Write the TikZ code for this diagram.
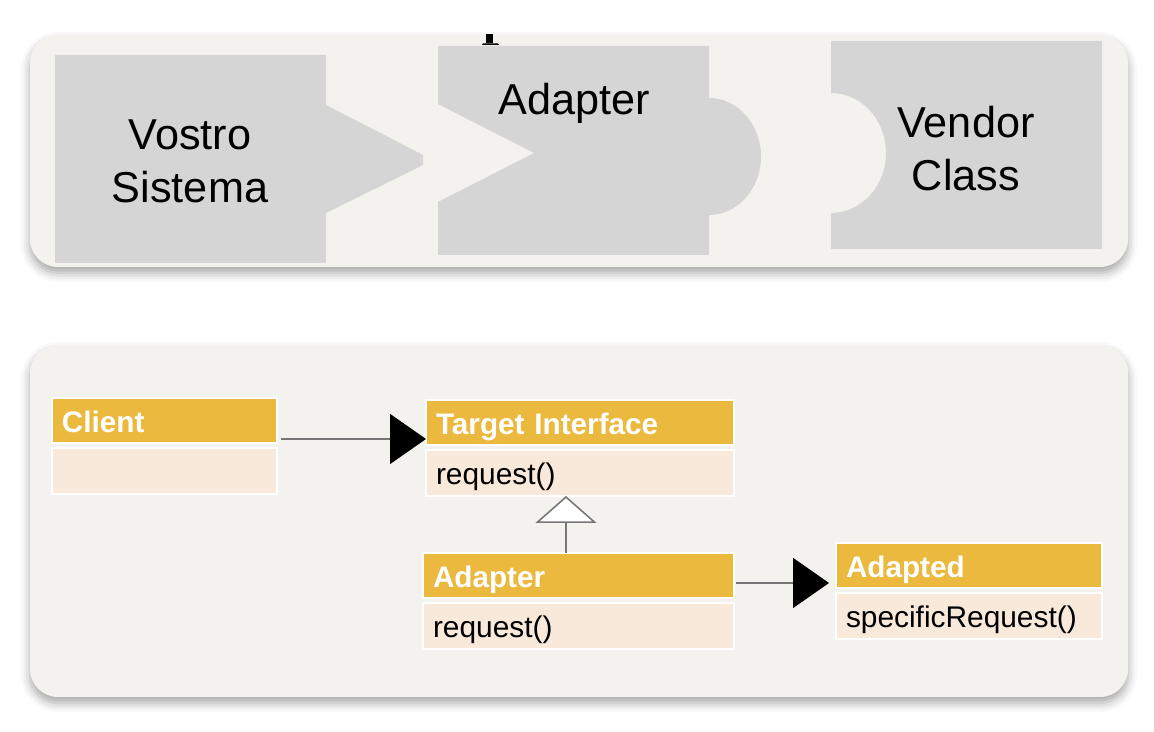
\documentclass[tikz,border=0pt]{standalone}
\usepackage{fontspec}
\setmainfont{Liberation Sans}
\usetikzlibrary{positioning,arrows.meta,shadows.blur}
\definecolor{panelbg}{HTML}{F4F2EE}
\definecolor{piecegray}{HTML}{D5D5D5}
\definecolor{umlgold}{HTML}{EBB93E}
\definecolor{umlpeach}{HTML}{F9E9DB}
\definecolor{linegray}{HTML}{777777}
\begin{document}
\begin{tikzpicture}[x=0.02cm,y=-0.02cm,
    panel/.style={fill=panelbg,rounded corners=0.56cm,
      blur shadow={shadow xshift=0cm,shadow yshift=-0.12cm,shadow blur radius=0.18cm,shadow opacity=35}},
    piece/.style={fill=piecegray},
    bigtxt/.style={font=\fontsize{24.6}{30}\selectfont,align=center,inner sep=0},
    hdr/.style={anchor=north west,fill=umlgold,draw=white,line width=1.1pt,text=white,
      font=\bfseries\fontsize{16.9}{20}\selectfont,inner xsep=0.2cm,inner ysep=0,
      text height=0.7cm,text depth=0.2cm,align=left,outer sep=0},
    bdy/.style={fill=umlpeach,draw=white,line width=1.1pt,text=black,
      font=\fontsize{17}{20}\selectfont,inner xsep=0.2cm,inner ysep=0,
      text height=0.7cm,text depth=0.22cm,align=left,outer sep=0},
    assoc/.style={draw=linegray,line width=0.9pt,-{Triangle[length=0.72cm,width=1cm,color=black]}},
    inherit/.style={draw=linegray,line width=0.9pt,-{Triangle[open,length=0.54cm,width=1.22cm,fill=white]}}]
  \useasboundingbox (0,0) rectangle (1154,732);
  % panels
  \path[panel] (30,35) rectangle (1128,267);
  \path[panel] (30,345) rectangle (1128,697);
  % foot of a cut off title letter
  \fill (486,34) rectangle (493,43.5);
  \fill (483,43.5) -- (498,43.5) -- (499,45) -- (482,45) -- cycle;
  % puzzle pieces
  \fill[piece] (55,55) -- (326,55) -- (326,105) -- (423,155) -- (423,165)
    -- (326,213) -- (326,263) -- (55,263) -- cycle;
  \fill[piece] (438,46) -- (709,46) -- (709,98)
    .. controls (737.7,98) and (761,124.2) .. (761,156.5)
    .. controls (761,188.8) and (737.7,215) .. (709,215)
    -- (709,255) -- (438,255) -- (438,202) -- (534,153) -- (438,104) -- cycle;
  \fill[piece] (831,41) -- (1102,41) -- (1102,249) -- (831,249) -- (831,213)
    .. controls (861.4,213) and (886,186.1) .. (886,153)
    .. controls (886,119.9) and (861.4,93) .. (831,93) -- cycle;
  \node[bigtxt] (vostro) at (190,161) {Vostro\\Sistema};
  \node[bigtxt,anchor=base] (adapt) at (574,115) {Adapter};
  \node[bigtxt] (vendor) at (966,148.5) {Vendor\\Class};
  % classes
  \foreach \nm/\px/\py/\tw/\ttl/\op in {
      client/52/398/4.1/Client/{},
      target/426/400/5.76/Target Interface/request(),
      adapter/423/553/5.82/Adapter/request(),
      adapted/836/543/4.92/Adapted/specificRequest()}{
    \node[hdr,text width=\tw cm] (\nm H) at (\px,\py) {\ttl};
    \node[bdy,text width=\tw cm,below=0.1cm of \nm H] (\nm B) {\op};
  }
  \coordinate (ct) at ([xshift=0.08cm,yshift=0.08cm]clientH.south east);
  \draw[assoc] (ct) -- (ct -| targetH.west);
  \coordinate (ih) at ([xshift=-0.25cm]adapterH.north);
  \draw[inherit] (ih) -- (ih |- targetB.south);
  \coordinate (as) at ([xshift=0.04cm,yshift=0.3cm]adapterH.south east);
  \draw[assoc,shorten >=0.14cm] (as) -- (as -| adaptedH.west);
\end{tikzpicture}
\end{document}
